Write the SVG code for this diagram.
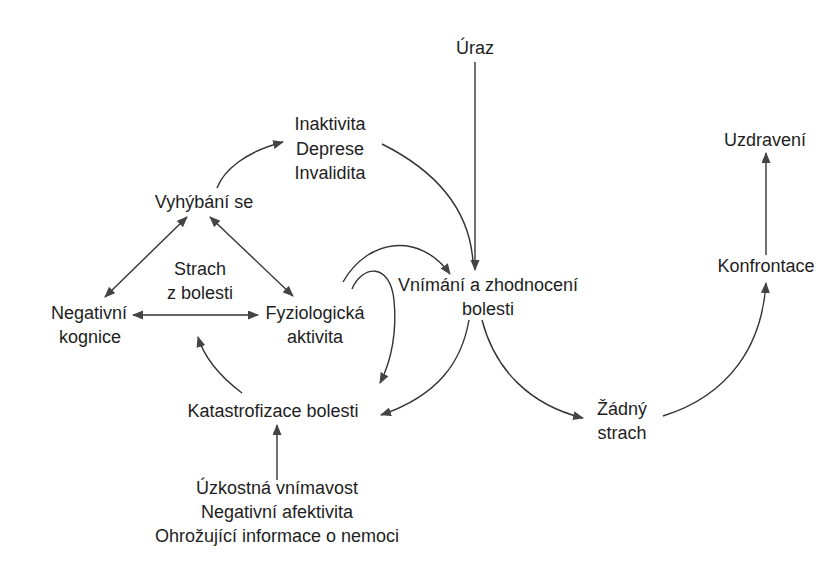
<svg xmlns="http://www.w3.org/2000/svg" width="818" height="563" viewBox="0 0 818 563">
  <defs>
    <style>
      .lbl { font-family: "Liberation Sans", Arial, sans-serif; font-size: 18px; fill: #1e1e1e; text-anchor: middle; }
      .edge { fill: none; stroke: #333; stroke-width: 1.4; }
      .arr { marker-end: url(#head); }
      .both { marker-start: url(#head); marker-end: url(#head); }
    </style>
    <marker id="head" markerUnits="userSpaceOnUse" markerWidth="12" markerHeight="10" refX="10" refY="4.5" orient="auto-start-reverse">
      <path d="M0,0 L11,4.5 L0,9 z" fill="#444"/>
    </marker>
  </defs>
  <rect width="818" height="563" fill="#fff"/>

  <g id="connectors">
    <!-- injury into pain perception -->
    <line class="edge arr" x1="475" y1="62" x2="475" y2="270"/>
    <!-- inactivity feeds back into pain perception -->
    <path class="edge" d="M382,144 Q468,187 473,262"/>
    <!-- avoidance to inactivity -->
    <path class="edge arr" d="M217,188 C224,170 245,152 283,142"/>
    <!-- fear triangle -->
    <line class="edge both" x1="187" y1="217" x2="105" y2="297"/>
    <line class="edge both" x1="210" y1="217" x2="293" y2="296"/>
    <line class="edge both" x1="133" y1="315" x2="258" y2="315"/>
    <!-- catastrophizing to fear -->
    <path class="edge arr" d="M242,393 C222,378 205,360 198,337"/>
    <!-- physiological activity loops -->
    <path class="edge arr" d="M343,282 C368,238 420,232 450,274"/>
    <path class="edge arr" d="M352,289 C362,265 390,262 394,300 C397,330 392,360 380,383"/>
    <!-- pain perception branches -->
    <path class="edge arr" d="M469,320 C462,360 440,395 381,415"/>
    <path class="edge arr" d="M482,320 C495,370 530,405 583,418"/>
    <!-- recovery path -->
    <path class="edge arr" d="M663,416 C730,395 762,345 766,283"/>
    <line class="edge arr" x1="766" y1="255" x2="766" y2="153"/>
    <!-- predisposing factors to catastrophizing -->
    <line class="edge arr" x1="277" y1="480" x2="277" y2="425"/>
  </g>

  <g id="uraz"><text class="lbl" x="475" y="54">Úraz</text></g>
  <g id="inaktivita">
    <text class="lbl" x="330" y="130">Inaktivita</text>
    <text class="lbl" x="330" y="155">Deprese</text>
    <text class="lbl" x="330" y="179">Invalidita</text>
  </g>
  <g id="uzdraveni"><text class="lbl" x="765" y="146">Uzdravení</text></g>
  <g id="vyhybani"><text class="lbl" x="204" y="208">Vyhýbání se</text></g>
  <g id="strach">
    <text class="lbl" x="200" y="275">Strach</text>
    <text class="lbl" x="200" y="299">z bolesti</text>
  </g>
  <g id="negativni-kognice">
    <text class="lbl" x="89" y="319">Negativní</text>
    <text class="lbl" x="90" y="343">kognice</text>
  </g>
  <g id="fyziologicka">
    <text class="lbl" x="315" y="319">Fyziologická</text>
    <text class="lbl" x="315" y="343">aktivita</text>
  </g>
  <g id="vnimani">
    <text class="lbl" x="488" y="291">Vnímání a zhodnocení</text>
    <text class="lbl" x="488" y="315">bolesti</text>
  </g>
  <g id="konfrontace"><text class="lbl" x="766" y="272">Konfrontace</text></g>
  <g id="katastrofizace"><text class="lbl" x="273" y="417">Katastrofizace bolesti</text></g>
  <g id="zadny-strach">
    <text class="lbl" x="622" y="415">Žádný</text>
    <text class="lbl" x="622" y="439">strach</text>
  </g>
  <g id="faktory">
    <text class="lbl" x="277" y="494">Úzkostná vnímavost</text>
    <text class="lbl" x="277" y="518">Negativní afektivita</text>
    <text class="lbl" x="277" y="542">Ohrožující informace o nemoci</text>
  </g>
</svg>
